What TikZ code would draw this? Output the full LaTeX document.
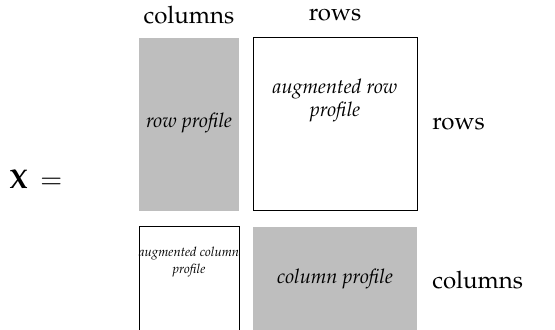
\documentclass[tikz,border=0pt]{standalone}
\usepackage[T1]{fontenc}
\usepackage{mathpazo}
\definecolor{boxgray}{RGB}{190,190,190}
\tikzset{
  lbl/.style={anchor=base, inner sep=0pt, font=\fontsize{12}{14}\selectfont},
  grayblk/.style={fill=boxgray, draw=none, inner sep=0pt},
  whiteblk/.style={draw=black, line width=0.5pt, inner sep=0pt},
  intext/.style={anchor=base, inner sep=0pt, align=center, font=\fontsize{10}{11.5}\selectfont\itshape},
  smalltext/.style={anchor=base, inner sep=0pt, align=center, font=\fontsize{6.5}{8.5}\selectfont\itshape}
}
\begin{document}
\begin{tikzpicture}[x=0.5pt,y=-0.5pt]
\useasboundingbox (0,0) rectangle (555,330);
\clip (0,0) rectangle (555,330);
% blocks
\node[grayblk, minimum width=50pt, minimum height=86.5pt] (rp) at (189,124.5) {};
\node[whiteblk, minimum width=82pt, minimum height=86.5pt] (arp) at (335,124.5) {};
\node[whiteblk, minimum width=50pt, minimum height=56.5pt] (acp) at (189,283.5) {};
\node[grayblk, minimum width=82pt, minimum height=56.5pt] (cp) at (335,283.5) {};
% block texts
\node[intext] (rpt) at (189,128) {row profile};
\node[intext] (arpt) at (335,117) {augmented row\\profile};
\node[smalltext] (acpt) at (189,274) {augmented column\\profile};
\node[intext] (cpt) at (335,284) {column profile};
% labels
\node[lbl] (ctop) at (189,24) {columns};
\node[lbl] (rtop) at (335,21) {rows};
\node[lbl, anchor=base west] (rright) at (432,130) {rows};
\node[lbl, anchor=base west] (cright) at (432,289) {columns};
\node[lbl, anchor=base west, font=\fontsize{13.5}{16}\selectfont] (xeq) at (9,189) {$\mathbf{X}\,=$};
\end{tikzpicture}
\end{document}
